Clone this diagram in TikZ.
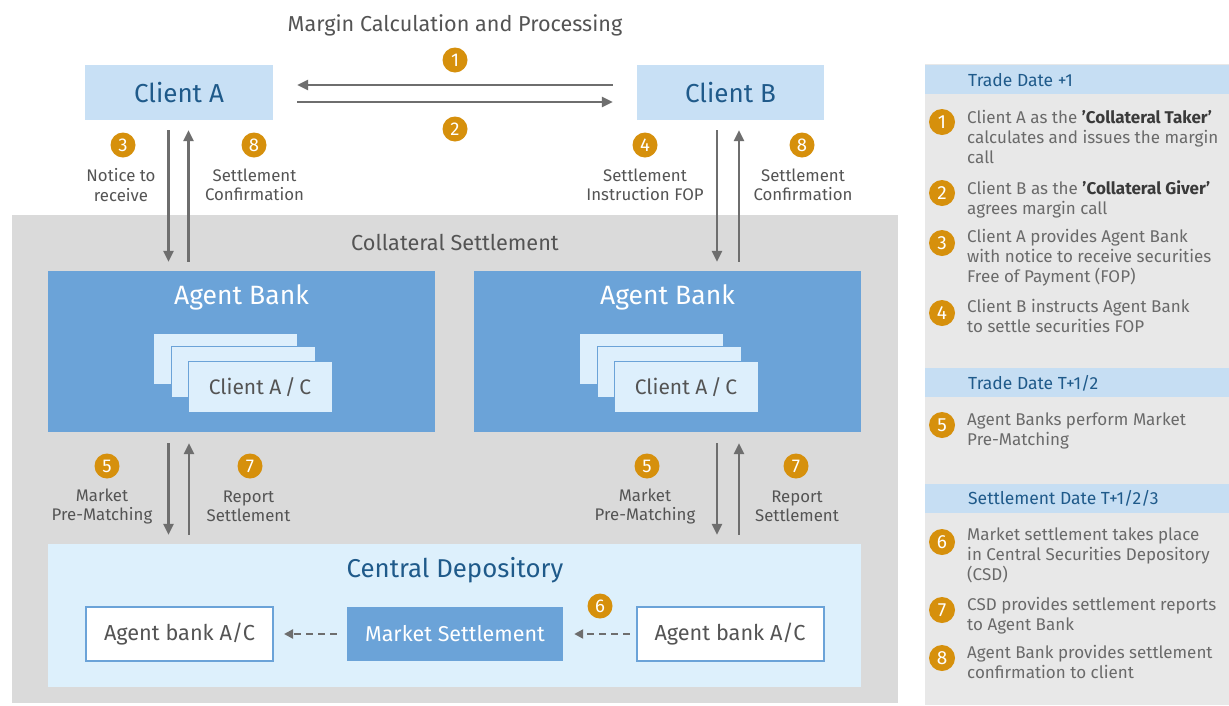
\documentclass[tikz,border=0pt]{standalone}
\usepackage{fontspec}
\setmainfont{Fira Sans}
\usetikzlibrary{arrows.meta}
\definecolor{orng}{HTML}{D6900C}
\definecolor{arrgray}{HTML}{6E6E6E}
\definecolor{lblgray}{HTML}{545454}
\definecolor{pantext}{HTML}{6A6A6A}
\definecolor{dkblue}{HTML}{1F5A8A}
\definecolor{clientfill}{HTML}{C8E0F5}
\definecolor{agentfill}{HTML}{6BA3D8}
\definecolor{cardfill}{HTML}{DDEFFC}
\definecolor{cdfill}{HTML}{DDF0FC}
\definecolor{bggray}{HTML}{DADADA}
\definecolor{panelgray}{HTML}{E8E8E8}
\definecolor{headfill}{HTML}{C6DEF3}
\definecolor{boldtext}{HTML}{3A3A3A}
\tikzset{
  badge/.style={circle, fill=orng, text=white, inner sep=0pt, minimum size=25pt, font=\fontsize{18.5}{18.5}\selectfont},
  pbadge/.style={circle, fill=orng, text=white, inner sep=0pt, minimum size=26pt, font=\fontsize{19}{19}\selectfont},
  lbl/.style={text=lblgray, align=center, inner sep=0pt, font=\fontsize{16.8}{19.5}\selectfont},
  arr/.style={draw=arrgray, line width=2.5pt, -{Triangle[length=11pt,width=10pt]}},
  darr/.style={draw=arrgray, line width=2.2pt, dash pattern=on 7pt off 5pt, -{Triangle[length=9pt,width=9pt]}},
  clientbox/.style={fill=clientfill, inner sep=0pt, text=dkblue, font=\fontsize{26}{26}\selectfont},
  agentbox/.style={fill=agentfill, inner sep=0pt},
  card/.style={fill=cardfill, draw=agentfill, line width=1pt, minimum width=144pt, minimum height=51pt, inner sep=0pt},
  acbox/.style={fill=white, draw=agentfill, line width=2pt, minimum width=187pt, minimum height=54pt, inner sep=0pt, text=lblgray, font=\fontsize{21.7}{21.7}\selectfont},
  head/.style={fill=headfill, minimum width=304pt, minimum height=29pt, inner sep=0pt},
  headtxt/.style={text=dkblue, inner sep=0pt, anchor=west, font=\fontsize{17.5}{17.5}\selectfont},
  ptxt/.style={text=pantext, inner sep=0pt, anchor=north west, align=left, font=\fontsize{17}{20}\selectfont},
}
\begin{document}
\begin{tikzpicture}[x=1pt,y=-1pt]
\useasboundingbox (0,0) rectangle (1229,705);
\fill[white] (0,0) rectangle (1229,705);

% backgrounds
\node[fill=bggray, minimum width=886pt, minimum height=488pt, inner sep=0pt] (cs) at (455,459) {};
\node[fill=panelgray, minimum width=304pt, minimum height=641pt, inner sep=0pt] (panel) at (1077,384.5) {};

% title
\node[text=lblgray, inner sep=0pt, font=\fontsize{21.6}{21.6}\selectfont] (title) at (455,25) {Margin Calculation and Processing};

% clients
\node[clientbox, minimum width=188pt, minimum height=55pt] (ca) at (179,92.5) {Client A};
\node[clientbox, minimum width=187pt, minimum height=55pt] (cb) at (730.5,92.5) {Client B};

\draw[arr, shorten <=24pt, shorten >=24pt] ([yshift=7.5pt]cb.west) -- ([yshift=7.5pt]cb.west -| ca.east);
\draw[arr, shorten <=24pt, shorten >=24pt] ([yshift=-9.5pt]ca.east) -- ([yshift=-9.5pt]ca.east -| cb.west);
\node[badge] (b1) at (455,60) {1};
\node[badge] (b2) at (455,129) {2};

% collateral settlement title
\node[text=lblgray, inner sep=0pt, font=\fontsize{21.7}{21.7}\selectfont] (cstitle) at (455,242) {Collateral Settlement};

% agent banks
\node[agentbox, minimum width=387pt, minimum height=161pt] (aba) at (241.5,351.5) {};
\node[text=white, inner sep=0pt, font=\fontsize{26.5}{26.5}\selectfont] (abat) at (241.5,297) {Agent Bank};
\node[card] (ca1) at (225,358.5) {};
\node[card] (ca2) at (243,372) {};
\node[card, text=lblgray, font=\fontsize{21}{21}\selectfont] (ca3) at (260,387) {Client A\,/\,C};

\node[agentbox, minimum width=387pt, minimum height=161pt] (abb) at (667.5,351.5) {};
\node[text=white, inner sep=0pt, font=\fontsize{26.5}{26.5}\selectfont] (abbt) at (667.5,297) {Agent Bank};
\node[card] (cb1) at (651,358.5) {};
\node[card] (cb2) at (669,372) {};
\node[card, text=lblgray, font=\fontsize{21}{21}\selectfont] (cb3) at (686,387) {Client A\,/\,C};

% client - agent arrows
\draw[arr, shorten <=10pt, shorten >=9pt] ([xshift=-10.5pt]ca.south) -- ([xshift=-10.5pt]ca.south |- aba.north);
\draw[arr, shorten <=9pt, shorten >=10pt] ([xshift=9.5pt]ca.south |- aba.north) -- ([xshift=9.5pt]ca.south);
\draw[arr, shorten <=10pt, shorten >=9pt] ([xshift=-13.5pt]cb.south) -- ([xshift=-13.5pt]cb.south |- abb.north);
\draw[arr, shorten <=9pt, shorten >=10pt] ([xshift=8.5pt]cb.south |- abb.north) -- ([xshift=8.5pt]cb.south);

\node[badge] (b3) at (123,145) {3};
\node[badge] (b8a) at (254,145) {8};
\node[badge] (b4) at (645,145) {4};
\node[badge] (b8b) at (802,145) {8};
\node[lbl] (l3) at (121,185) {Notice to\\receive};
\node[lbl] (l8a) at (254.5,185) {Settlement\\Confirmation};
\node[lbl] (l4) at (645,185) {Settlement\\Instruction FOP};
\node[lbl] (l8b) at (803,185) {Settlement\\Confirmation};

% central depository
\node[fill=cdfill, minimum width=813pt, minimum height=143pt, inner sep=0pt] (cd) at (454.5,615.5) {};
\node[text=dkblue, inner sep=0pt, font=\fontsize{25.8}{25.8}\selectfont] (cdt) at (455,570) {Central Depository};
\node[acbox] (aca) at (179.5,634) {Agent bank A/C};
\node[fill=agentfill, minimum width=216pt, minimum height=54pt, inner sep=0pt, text=white, font=\fontsize{21.5}{21.5}\selectfont] (ms) at (455,634) {Market Settlement};
\node[acbox] (acb) at (730,634) {Agent bank A/C};
\draw[darr, shorten <=10pt, shorten >=10pt] (ms.west) -- (aca.east);
\draw[darr, shorten <=6pt, shorten >=11pt] (acb.west) -- (ms.east);
\node[badge] (b6) at (600,606) {6};

% agent - depository arrows
\draw[arr, shorten <=11pt, shorten >=9pt] ([xshift=-10.5pt]ca.south |- aba.south) -- ([xshift=-10.5pt]ca.south |- cd.north);
\draw[arr, shorten <=9pt, shorten >=11pt] ([xshift=10pt]ca.south |- cd.north) -- ([xshift=10pt]ca.south |- aba.south);
\draw[arr, shorten <=11pt, shorten >=9pt] ([xshift=-13.5pt]cb.south |- abb.south) -- ([xshift=-13.5pt]cb.south |- cd.north);
\draw[arr, shorten <=9pt, shorten >=11pt] ([xshift=8.5pt]cb.south |- cd.north) -- ([xshift=8.5pt]cb.south |- abb.south);

\node[badge] (b5a) at (107,466) {5};
\node[badge] (b7a) at (250,466) {7};
\node[badge] (b5b) at (647,466) {5};
\node[badge] (b7b) at (796,466) {7};
\node[lbl] (l5a) at (102,506.5) {Market\\Pre-Matching};
\node[lbl] (l7a) at (248.5,506.5) {Report\\Settlement};
\node[lbl] (l5b) at (645,506.5) {Market\\Pre-Matching};
\node[lbl] (l7b) at (797,506.5) {Report\\Settlement};

% right panel
\node[head] (h1) at (1077,79) {};
\node[headtxt] (h1t) at (968,80) {Trade Date +1};
\node[head] (h2) at (1077,382) {};
\node[headtxt] (h2t) at (968,383) {Trade Date T+1/2};
\node[head] (h3) at (1077,498.5) {};
\node[headtxt] (h3t) at (968,498) {Settlement Date T+1/2/3};

\node[pbadge] (p1) at (942,122) {1};
\node[ptxt] (t1) at (967,110.5) {Client A as the \textcolor{boldtext}{\bfseries 'Collateral Taker'}\\calculates and issues the margin\\call};
\node[pbadge] (p2) at (942,193) {2};
\node[ptxt] (t2) at (967,180.5) {Client B as the \textcolor{boldtext}{\bfseries 'Collateral Giver'}\\agrees margin call};
\node[pbadge] (p3) at (942,243) {3};
\node[ptxt] (t3) at (967,229.5) {Client A provides Agent Bank\\with notice to receive securities\\Free of Payment (FOP)};
\node[pbadge] (p4) at (942,313) {4};
\node[ptxt] (t4) at (967,299.5) {Client B instructs Agent Bank\\to settle securities FOP};
\node[pbadge] (p5) at (942,425) {5};
\node[ptxt] (t5) at (967,412.5) {Agent Banks perform Market\\Pre-Matching};
\node[pbadge] (p6) at (942,542) {6};
\node[ptxt] (t6) at (967,527.5) {Market settlement takes place\\in Central Securities Depository\\(CSD)};
\node[pbadge] (p7) at (942,610) {7};
\node[ptxt] (t7) at (967,597.5) {CSD provides settlement reports\\to Agent Bank};
\node[pbadge] (p8) at (942,658) {8};
\node[ptxt] (t8) at (967,645.5) {Agent Bank provides settlement\\confirmation to client};
\end{tikzpicture}
\end{document}
